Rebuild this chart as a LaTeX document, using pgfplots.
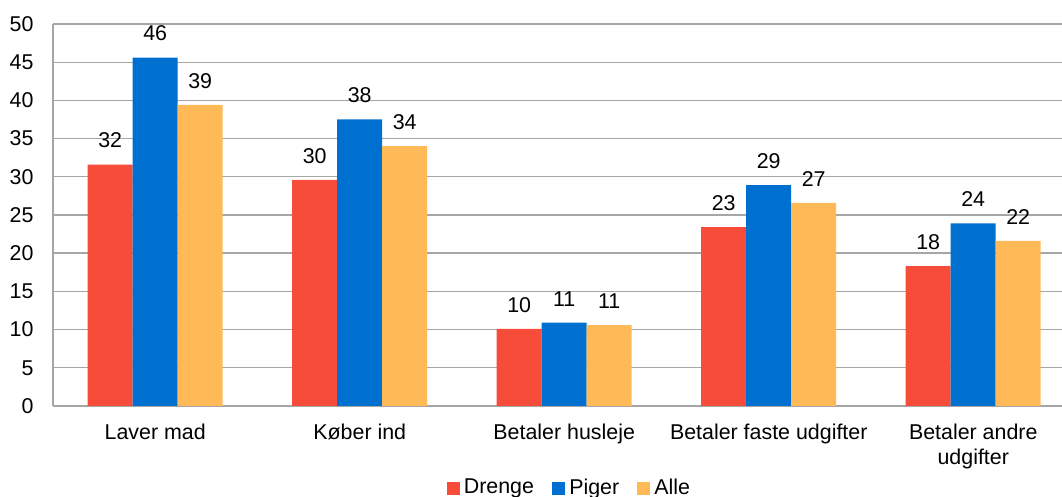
\documentclass[border=0pt]{standalone}
\usepackage{pgfplots}
\pgfplotsset{compat=1.18}
\usepackage{fontspec}
\setmainfont{Liberation Sans}
\definecolor{cred}{HTML}{F84C3A}
\definecolor{cblue}{HTML}{0070D0}
\definecolor{corange}{HTML}{FFB957}
\definecolor{cgrid}{HTML}{A6A6A6}
\begin{document}
\fontsize{10.7}{12.5}\selectfont
\begin{tikzpicture}
\useasboundingbox (0,0) rectangle (531pt,248.5pt);
\clip (0,0) rectangle (531pt,248.5pt);
\begin{axis}[
  at={(26.5pt,45.5pt)}, anchor=south west,
  scale only axis, width=511.25pt, height=191pt,
  ybar=0pt, bar width=22.5pt,
  xmin=-0.5, xmax=4.5, ymin=0, ymax=50,
  ytick={0,5,...,50},
  xtick=data,
  xticklabels={Laver mad, Køber ind, Betaler husleje, Betaler faste udgifter, {Betaler andre\\udgifter}},
  xticklabel style={align=center, yshift=-5pt, font=\fontsize{10.7}{12.5}\selectfont},
  yticklabel style={xshift=-6pt, font=\fontsize{10.7}{12.5}\selectfont},
  /pgf/number format/assume math mode=true,
  major tick length=0pt,
  axis x line*=bottom, axis y line*=left,
  axis line style={cgrid, line width=0.7pt},
  x axis line style={-}, y axis line style={-},
  ymajorgrids, grid style={cgrid, line width=0.7pt},
  nodes near coords,
  nodes near coords style={/pgf/number format/fixed, /pgf/number format/precision=0, yshift=4.5pt, font=\fontsize{10.7}{12.5}\selectfont},
  every node near coord/.append style={black},
  legend style={at={(0.506,-0.215)}, anchor=center, draw=none, legend columns=-1, font=\fontsize{10.7}{12.5}\selectfont, /tikz/every even column/.append style={column sep=7pt}},
  legend image code/.code={\fill[#1] (0pt,-3.3pt) rectangle (6.6pt,3.3pt);},
  enlarge x limits=false,
]
\addplot[fill=cred, draw=none] coordinates {(0,31.6) (1,29.6) (2,10.1) (3,23.4) (4,18.3)};
\addplot[fill=cblue, draw=none] coordinates {(0,45.6) (1,37.5) (2,10.9) (3,28.9) (4,23.9)};
\addplot[fill=corange, draw=none] coordinates {(0,39.4) (1,34.0) (2,10.6) (3,26.6) (4,21.6)};
\legend{Drenge, Piger, Alle}
\end{axis}
\end{tikzpicture}
\end{document}
